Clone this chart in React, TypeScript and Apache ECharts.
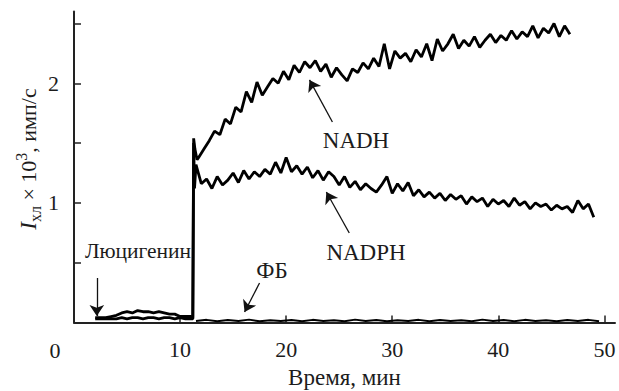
import React, { useEffect, useRef } from "react";
import * as echarts from "echarts";

// ---- data (minutes, I x 10^3 imp/s) ----
const STEP = 0.5;

// lucigenin baseline before substrate addition
const luciT = [2.0, 2.5, 3.0, 3.5, 4.0, 4.5, 5.0, 5.5, 6.0, 6.5, 7.0, 7.5, 8.0, 8.5, 9.0, 9.5, 10.0, 10.5, 11.0, 11.2];
const luciUpper = [0.04, 0.04, 0.04, 0.05, 0.06, 0.08, 0.09, 0.08, 0.1, 0.09, 0.09, 0.08, 0.09, 0.08, 0.07, 0.07, 0.05, 0.05, 0.05, 0.04];
const luciLower = [0.03, 0.03, 0.03, 0.03, 0.03, 0.04, 0.03, 0.04, 0.04, 0.03, 0.04, 0.04, 0.03, 0.04, 0.04, 0.03, 0.04, 0.03, 0.03, 0.03];

// spike at substrate addition
const nadhSpikeT = [11.28, 11.4, 11.6];
const nadhSpikeV = [1.54, 1.45, 1.36];
const nadpSpikeT = [11.28, 11.36];
const nadpSpikeV = [1.5, 1.12];

// NADH trace, from 11.75 min every 0.5 min
const NADH_T0 = 11.75;
const nadhV = [
  1.38, 1.45, 1.52, 1.6, 1.57, 1.7, 1.66, 1.8, 1.76, 1.93,
  1.84, 2.01, 1.9, 1.97, 2.04, 2.0, 2.1, 2.03, 2.15, 2.09,
  2.18, 2.13, 2.19, 2.1, 2.16, 2.05, 2.13, 2.07, 2.02, 2.12,
  2.09, 2.17, 2.12, 2.21, 2.14, 2.33, 2.12, 2.27, 2.21, 2.25,
  2.18, 2.28, 2.22, 2.33, 2.19, 2.37, 2.27, 2.33, 2.41, 2.29,
  2.36, 2.31, 2.39, 2.3, 2.36, 2.41, 2.34, 2.4, 2.36, 2.44,
  2.37, 2.43, 2.39, 2.48, 2.38, 2.46, 2.42, 2.5, 2.39, 2.48,
  2.41,
];

// NADPH trace, from 11.5 min every 0.5 min
const NADP_T0 = 11.5;
const nadpV = [
  1.32, 1.16, 1.2, 1.12, 1.22, 1.15, 1.19, 1.25, 1.17, 1.27,
  1.2, 1.26, 1.22, 1.28, 1.24, 1.34, 1.25, 1.38, 1.26, 1.31,
  1.24, 1.3, 1.21, 1.27, 1.19, 1.26, 1.22, 1.15, 1.22, 1.13,
  1.18, 1.11, 1.16, 1.12, 1.09, 1.15, 1.22, 1.08, 1.16, 1.1,
  1.17, 1.06, 1.11, 1.05, 1.09, 1.04, 1.08, 1.02, 1.07, 1.03,
  1.06, 0.99, 1.05, 1.01, 1.04, 0.97, 1.03, 0.99, 1.02, 0.97,
  1.04, 0.98, 1.01, 0.95, 1.0, 0.97, 0.99, 0.94, 0.98, 0.95,
  0.97, 0.92, 1.02, 0.95, 0.99, 0.88,
];

// phosphate buffer control, from 11.5 min every 1 min
const FB_T0 = 11.5;
const fbV = [
  0.012, 0.022, 0.01, 0.02, 0.012, 0.024, 0.01, 0.018, 0.012, 0.02,
  0.01, 0.022, 0.012, 0.018, 0.01, 0.024, 0.012, 0.02, 0.01, 0.018,
  0.012, 0.022, 0.01, 0.02, 0.012, 0.018, 0.01, 0.024, 0.012, 0.02,
  0.01, 0.022, 0.012, 0.018, 0.01, 0.02, 0.012, 0.022, 0.01,
];

const xTicks = [10, 20, 30, 40, 50];
const yTicks = [0.5, 1, 1.5, 2, 2.5];
const yLabels = [1, 2];

// annotation arrows: [tail, head] in data coordinates
const arrows = [
  [[24.36, 1.676], [22.2, 2.028]],
  [[25.95, 0.748], [23.79, 1.091]],
  [[2.15, 0.372], [2.15, 0.054]],
  [[17.49, 0.33], [16.08, 0.088]],
];

const zip = (t: number[], v: number[]) => t.map((x, i) => [x, v[i]]);
const grid = (t0: number, step: number, v: number[]) => v.map((y, i) => [t0 + i * step, y]);

const FONT = "Liberation Serif";
const TXT = "#1c1c1c";

const label = (x: number, y: number, text: string, size = 23) => ({
  type: "text",
  x,
  y,
  style: { text, fontFamily: FONT, fontSize: size, fill: TXT, align: "center", verticalAlign: "middle" },
});

export default function App() {
  const ref = useRef<HTMLDivElement>(null);
  useEffect(() => {
    if (!ref.current) return;
    const chart = echarts.init(ref.current, null, { renderer: "svg" });
    const lineStyle = { color: "#000", width: 2.8 };
    chart.setOption({
      animation: false,
      backgroundColor: "#fff",
      textStyle: { fontFamily: FONT },
      grid: { left: 74, right: 4, top: 11.5, bottom: 68.5, containLabel: false, outerBoundsMode: "none" },
      xAxis: {
        type: "value",
        min: 0,
        max: 51,
        interval: 10,
        name: "Время, мин",
        nameLocation: "middle",
        nameGap: 43,
        nameTextStyle: { fontFamily: FONT, fontSize: 23, color: TXT },
        axisLine: { show: true, lineStyle: { color: "#222", width: 2 } },
        axisTick: { show: true, inside: true, length: 7, customValues: xTicks, lineStyle: { color: "#222", width: 1.5 } },
        axisLabel: { customValues: xTicks, margin: 16, fontFamily: FONT, fontSize: 22, color: TXT },
        splitLine: { show: false },
      },
      yAxis: {
        type: "value",
        min: 0,
        max: 2.6,
        interval: 0.5,
        axisLine: { show: true, lineStyle: { color: "#222", width: 2 } },
        axisTick: { show: true, inside: true, length: 7, customValues: yTicks, lineStyle: { color: "#222", width: 1.5 } },
        axisLabel: { customValues: yLabels, margin: 15, fontFamily: FONT, fontSize: 22, color: TXT },
        splitLine: { show: false },
      },
      graphic: [
        label(55, 350, "0", 22),
        label(356, 140, "NADH"),
        label(366, 252, "NADPH"),
        label(138, 251, "Люцигенин", 21.5),
        label(272, 270, "ФБ"),
        {
          type: "text",
          x: 28,
          y: 159,
          rotation: Math.PI / 2,
          style: {
            text: "{i|I}{sub|хл}{n| × 10}{sup|3}{n|, имп/с}",
            align: "center",
            verticalAlign: "middle",
            fill: TXT,
            rich: {
              i: { fontFamily: FONT, fontSize: 23, fontStyle: "italic", lineHeight: 30, verticalAlign: "middle", fill: TXT },
              n: { fontFamily: FONT, fontSize: 22, lineHeight: 30, verticalAlign: "middle", fill: TXT },
              sub: { fontFamily: FONT, fontSize: 16, lineHeight: 30, verticalAlign: "bottom", fill: TXT },
              sup: { fontFamily: FONT, fontSize: 16, lineHeight: 30, verticalAlign: "top", fill: TXT },
            },
          },
        },
      ],
      series: [
        {
          name: "NADH",
          type: "line",
          showSymbol: false,
          lineStyle,
          data: [...zip(luciT, luciUpper), ...zip(nadhSpikeT, nadhSpikeV), ...grid(NADH_T0, STEP, nadhV)],
        },
        {
          name: "NADPH",
          type: "line",
          showSymbol: false,
          lineStyle,
          data: [...zip(luciT, luciLower), ...zip(nadpSpikeT, nadpSpikeV), ...grid(NADP_T0, STEP, nadpV)],
        },
        {
          name: "ФБ",
          type: "line",
          showSymbol: false,
          lineStyle: { color: "#000", width: 2 },
          data: grid(FB_T0, 1, fbV),
        },
        {
          name: "arrows",
          type: "line",
          data: [],
          markLine: {
            silent: true,
            symbol: ["none", "arrow"],
            symbolSize: 11,
            label: { show: false },
            lineStyle: { color: "#111", width: 1.3, type: "solid" },
            data: arrows.map(([a, b]) => [{ coord: a }, { coord: b }]),
          },
        },
      ],
    });
    return () => chart.dispose();
  }, []);
  return <div ref={ref} style={{ position: "fixed", left: 0, top: 0, width: 619, height: 391 }} />;
}
